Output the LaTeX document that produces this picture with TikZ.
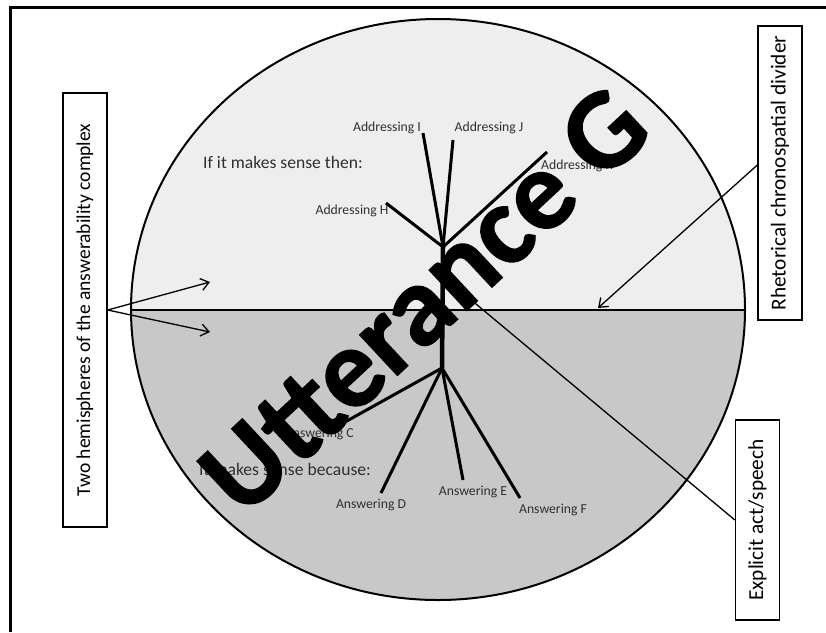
\documentclass[tikz,border=0pt]{standalone}
\usepackage{fontspec}
\setmainfont{Carlito}
\newfontfamily\uttfont[BoldFeatures={FakeBold=1.2}]{Carlito}
\usetikzlibrary{arrows.meta,calc}
\definecolor{topfill}{HTML}{EEEEEE}
\definecolor{botfill}{HTML}{C8C8C8}
\definecolor{lbltext}{HTML}{303030}
\begin{document}
\begin{tikzpicture}[x=1pt,y=-1pt,
  lbl/.style={font=\fontsize{13.7}{15}\selectfont, inner sep=0pt, text=lbltext},
  note/.style={font=\fontsize{17.6}{20}\selectfont, inner sep=0pt, text=lbltext},
  sidebox/.style={draw, line width=1.3pt, rotate=90, inner sep=0pt, minimum height=44pt},
  branch/.style={line width=3pt},
  trunk/.style={line width=4.5pt},
  pointer/.style={line width=1.3pt, -{Straight Barb[length=8pt,width=12pt]}},
  plainline/.style={line width=1.3pt},
  bigtext/.style={rotate=43, font=\uttfont\fontsize{114}{118}\selectfont\bfseries, inner sep=0pt},
]
\useasboundingbox (0,0) rectangle (826,632);
\fill[white] (0,0) rectangle (826,632);
% hemispheres
\begin{scope}
  \clip (0,0) rectangle (826,310);
  \fill[topfill] (438,309.5) ellipse [x radius=307, y radius=290.5];
\end{scope}
\begin{scope}
  \clip (0,310) rectangle (826,632);
  \fill[botfill] (438,309.5) ellipse [x radius=307, y radius=290.5];
\end{scope}
\draw[line width=2pt] (438,309.5) ellipse [x radius=307, y radius=290.5];
\coordinate (divL) at (131,310);
\coordinate (divR) at (745,310);
\draw[line width=2.3pt] (divL) -- (divR);
% frame
\draw[line width=3pt] (10.5,632) -- (10.5,7.5) -- (826,7.5);

% labels
\node[lbl] (adI) at (387,128) {Addressing I};
\node[lbl] (adJ) at (489,128) {Addressing J};
\node[lbl, anchor=west] (adK) at (541,166) {Addressing K};
\node[lbl] (adH) at (352,211) {Addressing H};
\node[note, anchor=west] (ifthen) at (203,162) {If it makes sense then:};
\node[note, anchor=west] (because) at (199,469) {It makes sense because:};
\node[lbl, anchor=east] (anC) at (354,434) {Answering C};
\node[lbl] (anD) at (371,505) {Answering D};
\node[lbl] (anE) at (473,492) {Answering E};
\node[lbl] (anF) at (553,510) {Answering F};

% tree
\coordinate (topj) at (443,247);
\coordinate (botj) at (442,368);
\coordinate (endH) at (386,203);
\coordinate (endI) at (423,133);
\coordinate (endJ) at (453,140);
\coordinate (endK) at (547,152);
\coordinate (endC) at (345,422);
\coordinate (endD) at (381,493);
\coordinate (endE) at (463,480);
\coordinate (endF) at (520,498);
\draw[trunk] (topj) -- (botj);
\foreach \e in {endH,endI,endJ,endK}{\draw[branch] (topj) -- (\e);}
\foreach \e in {endC,endD,endE,endF}{\draw[branch] (botj) -- (\e);}

% side boxes
\node[sidebox, minimum width=294pt, font=\fontsize{21.3}{23}\selectfont] (rhet) at (780,173) {Rhetorical chronospatial divider};
\node[sidebox, minimum width=434pt, font=\fontsize{19.6}{22}\selectfont] (hemi) at (85,310) {Two hemispheres of the answerability complex};
\node[sidebox, minimum width=200pt, font=\fontsize{21.3}{23}\selectfont] (expl) at (757.5,520) {Explicit act/speech};

\coordinate (divpt) at (598,308);
\coordinate (uparrow) at (210,282);
\coordinate (downarrow) at (210,332);
\coordinate (actpt) at (452,284);
\draw[pointer] ($(rhet.north)+(0,-8)$) -- (divpt);
\draw[pointer] (hemi.south) -- (uparrow);
\draw[pointer] (hemi.south) -- (downarrow);
\draw[plainline] (expl.north) -- (actpt);

% big title
\node[bigtext] (utt) at (424,300) {Utterance G};
\end{tikzpicture}
\end{document}
